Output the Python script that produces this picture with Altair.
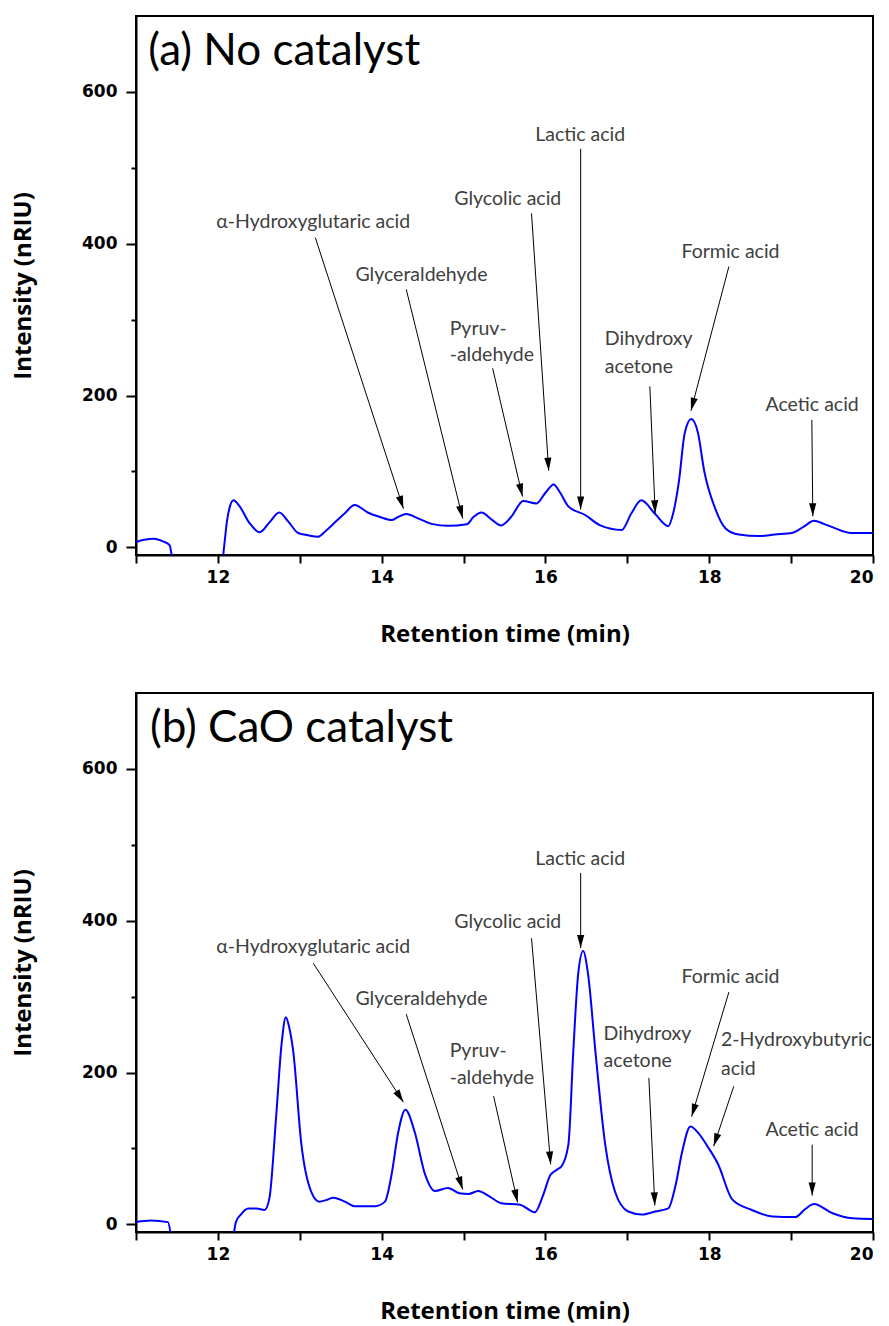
import math
import altair as alt
import pandas as pd

# ---------------- data ----------------
X_DOMAIN = [11, 20]
Y_DOMAIN = [-10, 700]
W, H = 737, 539

# Panel (a): No catalyst
ta = [11.0, 11.1, 11.22, 11.33, 11.41, 11.47, 12.04, 12.08, 12.11, 12.15, 12.19, 12.26,
      12.38, 12.51, 12.63, 12.75, 12.86, 12.98, 13.1, 13.22, 13.32, 13.43, 13.55, 13.67,
      13.83, 13.98, 14.12, 14.2, 14.3, 14.45, 14.61, 14.81, 15.04, 15.12, 15.22, 15.34,
      15.46, 15.58, 15.73, 15.89, 16.0, 16.1, 16.18, 16.28, 16.48, 16.67, 16.93, 17.05,
      17.17, 17.34, 17.5, 17.56, 17.63, 17.7, 17.78, 17.86, 17.94, 18.07, 18.2, 18.36,
      18.61, 18.8, 19.01, 19.15, 19.28, 19.4, 19.54, 19.73, 19.87, 20.0]
va = [7, 10, 11.5, 8, 3, -30, -30, 5, 34, 55, 62, 55,
      33, 20, 33, 46, 34, 19, 16, 14, 22, 33, 45, 56,
      46, 40, 36, 40, 44, 38, 31, 28.5, 30.5, 40, 46, 37,
      29, 40, 61, 58, 72, 83, 72, 54, 43, 29, 23, 45,
      62, 44, 28, 45, 87, 150, 169, 152, 100, 52, 25, 17,
      15, 17, 19, 27, 35, 31, 25, 19, 19, 19]

# Panel (b): CaO catalyst
tb = [11.0, 11.18, 11.39, 11.46, 12.16, 12.22, 12.28, 12.37, 12.47, 12.57, 12.63, 12.71,
      12.78, 12.83, 12.87, 12.92, 13.02, 13.14, 13.24, 13.32, 13.41, 13.55, 13.67, 13.92,
      14.04, 14.12, 14.2, 14.29, 14.4, 14.53, 14.65, 14.81, 14.95, 15.06, 15.18, 15.3,
      15.46, 15.69, 15.87, 15.97, 16.06, 16.14, 16.2, 16.28, 16.34, 16.4, 16.46, 16.52,
      16.61, 16.73, 16.85, 17.01, 17.18, 17.34, 17.5, 17.59, 17.67, 17.77, 17.87, 17.99,
      18.11, 18.28, 18.52, 18.77, 19.05, 19.17, 19.28, 19.5, 19.75, 20.0]
vb = [3, 5, 3, -30, -30, 3, 13, 21, 21, 19, 35, 140,
      240, 273, 260, 228, 105, 43, 30, 32, 35, 30, 24, 24,
      30, 65, 120, 151, 123, 66, 44, 48, 41, 40, 44, 38,
      28, 26, 16, 38, 65, 72, 77, 105, 228, 330, 360, 330,
      228, 105, 43, 17, 13, 17, 21, 52, 96, 129, 120, 101,
      79, 33, 19, 10.5, 9.6, 20, 27, 15, 8, 7]

# Annotation labels (text, t, v, align)
labels_a = [
    ("\u03b1-Hydroxyglutaric acid", 13.165, 429, "center"),
    ("Glyceraldehyde", 14.486, 359, "center"),
    ("Pyruv-", 14.83, 288, "left"),
    ("-aldehyde", 14.83, 254, "left"),
    ("Glycolic acid", 15.54, 459, "center"),
    ("Lactic acid", 16.425, 543, "center"),
    ("Dihydroxy", 16.725, 274, "left"),
    ("acetone", 16.725, 237, "left"),
    ("Formic acid", 18.26, 389, "center"),
    ("Acetic acid", 19.257, 188, "center"),
]
labels_b = [
    ("\u03b1-Hydroxyglutaric acid", 13.165, 365, "center"),
    ("Glyceraldehyde", 14.486, 297, "center"),
    ("Pyruv-", 14.83, 228, "left"),
    ("-aldehyde", 14.83, 193, "left"),
    ("Glycolic acid", 15.54, 398, "center"),
    ("Lactic acid", 16.425, 481, "center"),
    ("Dihydroxy", 16.71, 251, "left"),
    ("acetone", 16.71, 215, "left"),
    ("Formic acid", 18.26, 326, "center"),
    ("2-Hydroxybutyric", 18.144, 243, "left"),
    ("acid", 18.144, 205, "left"),
    ("Acetic acid", 19.257, 125, "center"),
]

# Arrows (t_start, v_start, t_tip, v_tip)
arrows_a = [
    (13.19, 408, 14.266, 51),
    (14.30, 340, 14.99, 38),
    (15.355, 236, 15.72, 67),
    (15.83, 440, 16.04, 101),
    (16.43, 525, 16.43, 50),
    (17.275, 212, 17.34, 45),
    (18.24, 370, 17.777, 180),
    (19.253, 168, 19.265, 41),
]
arrows_b = [
    (13.165, 344, 14.266, 161),
    (14.30, 277, 14.99, 46),
    (15.367, 169, 15.66, 29),
    (15.83, 377, 16.064, 79),
    (16.43, 463, 16.43, 364),
    (17.263, 193, 17.336, 25),
    (18.24, 306, 17.785, 142),
    (18.30, 182, 18.054, 103),
    (19.257, 105, 19.257, 38),
]

titles = [("(a) No catalyst", 11.15, 652), ("(b) CaO catalyst", 11.17, 652)]

# ---------------- chart ----------------
LABEL_FONT = "Lato"
TICK_FONT = "DejaVu Sans"
TITLE_FONT = "Open Sans"
ARROW_SHAPE = "M0,0L-0.55,2L0.55,2Z"


def arrow_df(arrows):
    rows = []
    for t1, v1, t2, v2 in arrows:
        dx = (t2 - t1) * W / (X_DOMAIN[1] - X_DOMAIN[0])
        dy = -(v2 - v1) * H / (Y_DOMAIN[1] - Y_DOMAIN[0])
        ang = math.degrees(math.atan2(dx, -dy)) % 360
        rows.append({"t": t1, "v": v1, "t2": t2, "v2": v2, "angle": ang})
    return pd.DataFrame(rows)


xaxis = alt.Axis(
    values=list(range(11, 21)),
    format="d",
    labelExpr="datum.value % 2 === 0 ? datum.label : ''",
    tickSize=8,
    labelPadding=6,
    title="Retention time (min)",
    titlePadding=37,
)
yaxis = alt.Axis(
    values=[0, 100, 200, 300, 400, 500, 600],
    labelExpr="datum.value % 200 === 0 ? datum.label : ''",
    tickSize={"condition": {"test": "datum.value % 200 === 0", "value": 10}, "value": 5},
    labelPadding=9,
    title="Intensity (nRIU)",
    titlePadding=46,
)


def panel(ts, vs, labels, arrows, title):
    xs = alt.Scale(domain=X_DOMAIN, nice=False, zero=False)
    ys = alt.Scale(domain=Y_DOMAIN, nice=False, zero=False)
    curve = pd.DataFrame({"t": ts, "v": vs})
    line = alt.Chart(curve).mark_line(
        color="#0000FF", strokeWidth=2, clip=True, interpolate="monotone"
    ).encode(
        x=alt.X("t:Q", scale=xs, axis=xaxis),
        y=alt.Y("v:Q", scale=ys, axis=yaxis),
    )
    adf = arrow_df(arrows)
    rules = alt.Chart(adf).mark_rule(color="black", strokeWidth=1).encode(
        x=alt.X("t:Q", scale=xs), y=alt.Y("v:Q", scale=ys), x2="t2:Q", y2="v2:Q"
    )
    heads = alt.Chart(adf).mark_point(
        shape=ARROW_SHAPE, filled=True, color="black", opacity=1, size=169
    ).encode(
        x=alt.X("t2:Q", scale=xs), y=alt.Y("v2:Q", scale=ys),
        angle=alt.Angle("angle:Q", scale=None),
    )
    ldf = pd.DataFrame(labels, columns=["label", "t", "v", "align"])
    layers = [line, rules, heads]
    for al in ["center", "left"]:
        sub = ldf[ldf["align"] == al]
        if len(sub):
            layers.append(
                alt.Chart(sub).mark_text(
                    align=al, baseline="middle", font=LABEL_FONT, fontSize=19.5, color="#404040"
                ).encode(x=alt.X("t:Q", scale=xs), y=alt.Y("v:Q", scale=ys), text="label:N")
            )
    tdf = pd.DataFrame([title], columns=["label", "t", "v"])
    layers.append(
        alt.Chart(tdf).mark_text(
            align="left", baseline="middle", font=LABEL_FONT, fontSize=44, color="black"
        ).encode(x=alt.X("t:Q", scale=xs), y=alt.Y("v:Q", scale=ys), text="label:N")
    )
    return alt.layer(*layers).properties(width=W, height=H)


pa = panel(ta, va, labels_a, arrows_a, titles[0])
pb = panel(tb, vb, labels_b, arrows_b, titles[1])

chart = alt.vconcat(pa, pb, spacing=45).properties(
    padding={"left": 10, "top": 15, "right": 0, "bottom": 0}
).configure_view(
    stroke="black", strokeWidth=2
).configure_axis(
    domainColor="black", domainWidth=2, tickColor="black", tickWidth=2,
    labelFont=TICK_FONT, labelFontWeight="bold", labelFontSize=17, labelColor="black",
    titleFont=TITLE_FONT, titleFontWeight="bold", titleFontSize=24, titleColor="black",
    grid=False,
)

chart.save("out.html", embed_options={"renderer": "svg", "actions": False})
